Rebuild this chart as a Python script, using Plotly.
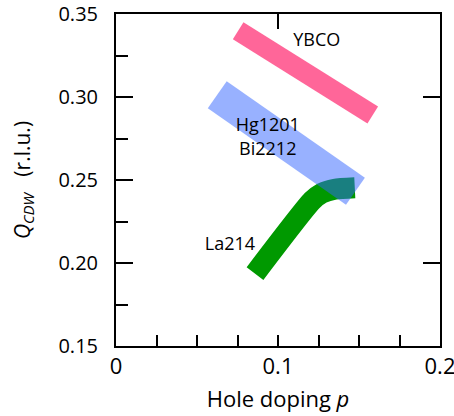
import plotly.graph_objects as go

# Band centre-lines (hole doping p, Q_CDW in r.l.u.)
ybco_p = [0.0754, 0.1585]
ybco_q = [0.3399, 0.2892]

hgbi_p = [0.0625, 0.1478]
hgbi_q = [0.3014, 0.2432]

la214_p = [0.0858, 0.1211, 0.1270, 0.1350, 0.1474]
la214_q = [0.1936, 0.2376, 0.2420, 0.2444, 0.2453]

labels = ["YBCO", "Hg1201", "Bi2212", "La214"]
label_p = [0.1239, 0.0937, 0.0937, 0.0703]
label_q = [0.3334, 0.2824, 0.2676, 0.2106]

x_ticks = [0, 0.1, 0.2]
x_ticktext = ["0", "0.1", "0.2"]
y_ticks = [0.15, 0.2, 0.25, 0.3, 0.35]
y_ticktext = ["0.15", "0.20", "0.25", "0.30", "0.35"]

FONT = "Open Sans"

fig = go.Figure()
fig.add_trace(go.Scatter(x=ybco_p, y=ybco_q, mode="lines",
                         line=dict(color="#FF6699", width=20), hoverinfo="skip"))
fig.add_trace(go.Scatter(x=la214_p, y=la214_q, mode="lines",
                         line=dict(color="#009900", width=21, shape="spline", smoothing=0.6),
                         hoverinfo="skip"))
fig.add_trace(go.Scatter(x=hgbi_p, y=hgbi_q, mode="lines", opacity=0.5,
                         line=dict(color="#3366FF", width=33), hoverinfo="skip"))
fig.add_trace(go.Scatter(x=label_p, y=label_q, mode="text", text=labels,
                         textfont=dict(family=FONT, size=18, color="black"),
                         hoverinfo="skip"))
# invisible trace to activate mirror axes
fig.add_trace(go.Scatter(x=[0.1], y=[0.2], xaxis="x2", yaxis="y2", mode="markers",
                         marker=dict(opacity=0), hoverinfo="skip"))

fig.update_layout(
    width=454, height=416,
    margin=dict(l=116, r=14, t=14, b=70),
    paper_bgcolor="white", plot_bgcolor="white",
    showlegend=False,
    font=dict(family=FONT, color="black"),
    xaxis=dict(range=[0, 0.2], tickvals=x_ticks, ticktext=x_ticktext,
               ticks="inside", ticklen=11, tickwidth=1.5, tickcolor="black",
               minor=dict(dtick=0.025, tick0=0, ticks="inside", ticklen=11,
                          tickwidth=1.5, tickcolor="black", showgrid=False),
               showline=True, linecolor="black", linewidth=2, mirror=True,
               showgrid=False, zeroline=False, ticklabeloverflow="allow",
               automargin=False,
               tickfont=dict(size=22),
               title=dict(text="Hole doping <i>p</i>", font=dict(size=22), standoff=12)),
    yaxis=dict(range=[0.15, 0.35], tickvals=y_ticks, ticktext=y_ticktext,
               ticks="inside", ticklen=17, tickwidth=1.5, tickcolor="black",
               minor=dict(dtick=0.05, tick0=0.175, ticks="inside", ticklen=12,
                          tickwidth=1.5, tickcolor="black", showgrid=False),
               showline=True, linecolor="black", linewidth=2, mirror=True,
               showgrid=False, zeroline=False, ticklabeloverflow="allow",
               ticklabelstandoff=12, automargin=False,
               tickfont=dict(size=20),
               title=dict(text="<i>Q</i><sub><i>CDW</i></sub>&nbsp;&nbsp;&nbsp;(r.l.u.)",
                          font=dict(size=21), standoff=22)),
    xaxis2=dict(range=[0, 0.2], overlaying="x", side="top", tickvals=[0.1],
                showticklabels=False, ticks="inside", ticklen=15, tickwidth=1.5,
                tickcolor="black", showgrid=False, zeroline=False, showline=False,
                automargin=False),
    yaxis2=dict(range=[0.15, 0.35], overlaying="y", side="right", tickvals=[0.2, 0.3],
                showticklabels=False, ticks="inside", ticklen=17, tickwidth=1.5,
                tickcolor="black", showgrid=False, zeroline=False, showline=False,
                automargin=False),
)

fig.write_html("out.html")
